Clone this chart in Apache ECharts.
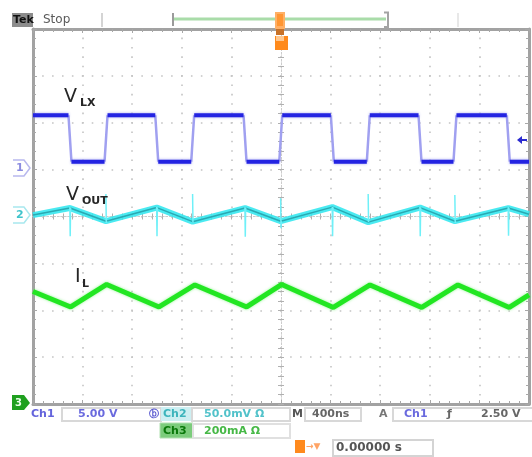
<!DOCTYPE html>
<html>
<head>
<meta charset="utf-8">
<script src="https://cdn.jsdelivr.net/npm/echarts/dist/echarts.min.js"></script>
<style>
html,body{margin:0;padding:0;background:#fff;}
#c{width:532px;height:457px;}
</style>
</head>
<body>
<div id="c"></div>
<script>
// ---- data (time in ns, values in screen divisions) ----
const timeMin = -2000, timeMax = 2000, timePerDiv = 400;
const divMin = -4, divMax = 4;

// Channel 1 (V_LX) switching node
const vlxFallTimes = [-1702, -1002, -290, 414, 1121, 1833];
const vlxRiseTimes = [-1411, -712, -2, 704, 1403];
const vlxHigh = 2.16;
const vlxLow = 1.17;

// Channel 2 (V_OUT) ripple: level at each VLX fall (peak) and rise (valley)
const voutStart = 0.03, voutEnd = 0.05;
const voutAtFall = [0.18, 0.19, 0.18, 0.2, 0.19, 0.18];
const voutAtRise = [-0.1, -0.11, -0.1, -0.12, -0.1];
// switching spikes
const voutSpikeFallTop = [0.2, 0.21, 0.2, 0.2, 0.21, 0.2];
const voutSpikeFallBottom = [-0.42, -0.42, -0.43, -0.42, -0.42, -0.41];
const voutSpikeRiseTop = [0.48, 0.48, 0.39, 0.48, 0.46];
const voutSpikeRiseBottom = [-0.14, -0.13, -0.25, -0.12, -0.14];

// Channel 3 (I_L) inductor current
const ilTimes = [-2000, -1696, -1406, -984, -694, -277, 6, 422, 718, 1135, 1427, 1841, 2000];
const ilValues = [-1.6, -1.93, -1.45, -1.93, -1.46, -1.93, -1.45, -1.94, -1.46, -1.94, -1.46, -1.94, -1.67];

// ---- build series data from the arrays ----
const events = [];
vlxFallTimes.forEach((t, i) => events.push({t, type: 'fall', i}));
vlxRiseTimes.forEach((t, i) => events.push({t, type: 'rise', i}));
events.sort((a, b) => a.t - b.t);

const edgeHalf = 12;
const vlxFlats = [], vlxEdges = [];
let t0 = timeMin, level = vlxHigh;
events.forEach(e => {
  const next = e.type === 'fall' ? vlxLow : vlxHigh;
  vlxFlats.push([t0, level], [e.t - edgeHalf, level], [e.t, '-']);
  vlxEdges.push([e.t - edgeHalf, level], [e.t + edgeHalf, next], [e.t + edgeHalf + 1, '-']);
  t0 = e.t + edgeHalf; level = next;
});
vlxFlats.push([t0, level], [timeMax, level]);

const voutRipple = [[timeMin, voutStart]];
const voutSpikes = [];
events.forEach(e => {
  if (e.type === 'fall') {
    voutRipple.push([e.t, voutAtFall[e.i]]);
    voutSpikes.push([e.t - 1, voutSpikeFallTop[e.i]], [e.t + 2, voutSpikeFallBottom[e.i]], [e.t + 5, voutAtFall[e.i]], [e.t + 6, '-']);
  } else {
    voutRipple.push([e.t, voutAtRise[e.i]]);
    voutSpikes.push([e.t - 1, voutSpikeRiseTop[e.i]], [e.t + 2, voutSpikeRiseBottom[e.i]], [e.t + 5, voutAtRise[e.i]], [e.t + 6, '-']);
  }
});
voutRipple.push([timeMax, voutEnd]);

const ilData = ilTimes.map((t, i) => [t, ilValues[i]]);

// ---- chart ----
const chart = echarts.init(document.getElementById('c'), null, {renderer: 'canvas'});
const border = '#a2a2a2';
const tickColor = '#a8a8a8';
const gridRect = {left: 33, right: 3, top: 29, bottom: 53, containLabel: false};

function edgeXAxis(pos, showSplit) {
  return {
    gridIndex: 0, type: 'value', min: timeMin, max: timeMax, interval: timePerDiv, position: pos,
    axisLine: {show: true, onZero: false, lineStyle: {color: border, width: 3}},
    axisTick: {show: true, inside: true, length: 4, lineStyle: {color: tickColor, width: 1}},
    minorTick: {show: true, splitNumber: 5, length: 3, lineStyle: {color: tickColor, width: 1}},
    axisLabel: {show: false},
    splitLine: {show: showSplit, lineStyle: {color: '#c4c4c4', width: 1.6, type: [1.6, 7.78], dashOffset: 0.8}}
  };
}
function edgeYAxis(pos, showSplit) {
  return {
    gridIndex: 0, type: 'value', min: divMin, max: divMax, interval: 1, position: pos,
    axisLine: {show: true, onZero: false, lineStyle: {color: border, width: 3}},
    axisTick: {show: true, inside: true, length: 4, lineStyle: {color: tickColor, width: 1}},
    minorTick: {show: true, splitNumber: 5, length: 3, lineStyle: {color: tickColor, width: 1}},
    axisLabel: {show: false},
    splitLine: {show: showSplit, lineStyle: {color: '#c4c4c4', width: 1.6, type: [1.6, 8.32], dashOffset: 0.8}}
  };
}
function centerXAxis(g, inside) {
  return {
    gridIndex: g, type: 'value', min: timeMin, max: timeMax, interval: timePerDiv, position: 'bottom',
    axisLine: {show: true, onZero: true, lineStyle: {color: '#cccccc', width: 1, type: [1.5, 2]}},
    axisTick: {show: true, inside: inside, length: 3, lineStyle: {color: '#b0b0b0'}},
    minorTick: {show: true, splitNumber: 5, length: 3, lineStyle: {color: '#b0b0b0'}},
    axisLabel: {show: false}, splitLine: {show: false}
  };
}
function centerYAxis(g, inside) {
  return {
    gridIndex: g, type: 'value', min: divMin, max: divMax, interval: 1, position: 'left',
    axisLine: {show: true, onZero: true, lineStyle: {color: '#cccccc', width: 1, type: [1.5, 2]}},
    axisTick: {show: true, inside: inside, length: 3, lineStyle: {color: '#b0b0b0'}},
    minorTick: {show: true, splitNumber: 5, length: 3, lineStyle: {color: '#b0b0b0'}},
    axisLabel: {show: false}, splitLine: {show: false}
  };
}

const txt = (x, y, s, color, size, weight, extra) => Object.assign({
  type: 'text', x, y, silent: true, z: 100,
  style: {text: s, fill: color, font: (weight || 'normal') + ' ' + size + 'px "DejaVu Sans", sans-serif', textVerticalAlign: 'middle'}
}, extra || {});
const rect = (x, y, w, h, fill, stroke, lw) => ({
  type: 'rect', shape: {x, y, width: w, height: h}, silent: true, z: 90,
  style: {fill: fill || 'none', stroke: stroke || 'none', lineWidth: lw || 1}
});
const line = (x1, y1, x2, y2, color, w) => ({
  type: 'line', shape: {x1, y1, x2, y2}, silent: true, z: 90, style: {stroke: color, lineWidth: w}
});

const graphics = [
  // top status bar
  rect(12, 13, 21, 14, '#8c8c8c'),
  txt(13, 20.5, 'Tek', '#111', 11, 'bold'),
  txt(43, 20, 'Stop', '#5a5a5a', 12, 'normal'),
  line(102, 13, 102, 27, '#d4d4d4', 2),
  line(458, 13, 458, 27, '#e8e8e8', 2),
  line(174, 19, 386, 19, '#a9dca9', 3),
  line(173, 13, 173, 26, '#7a7a7a', 1.5),
  {type: 'polyline', shape: {points: [[384, 12.5], [388, 12.5], [388, 27], [384, 27]]}, silent: true, z: 90, style: {stroke: '#a4a4a4', lineWidth: 2, fill: 'none'}},
  rect(275, 12, 10, 17, '#ffb066'),
  rect(277, 14, 6, 12, '#ff9633'),
  rect(276, 29, 8, 6, '#c87228'),
  rect(275, 36, 13, 14, '#ff8a1c'),
  rect(276, 36, 8, 5, '#ffc890'),
  // ground markers
  {type: 'polyline', shape: {points: [[13, 160], [24, 160], [30, 168], [24, 176], [13, 176]]}, silent: true, z: 90, style: {stroke: '#b8b8ee', lineWidth: 1.5, fill: 'none'}},
  txt(16, 168.5, '1', '#8c8ce0', 11, 'bold'),
  {type: 'polyline', shape: {points: [[13, 207], [24, 207], [30, 215], [24, 223], [13, 223]]}, silent: true, z: 90, style: {stroke: '#a8e8ee', lineWidth: 1.5, fill: 'none'}},
  txt(16, 215.5, '2', '#40c4cc', 11, 'bold'),
  {type: 'polygon', shape: {points: [[12, 395], [24, 395], [30, 403], [24, 410], [12, 410]]}, silent: true, z: 90, style: {fill: '#1fa01f'}},
  txt(15, 403, '3', '#e8ffe8', 10, 'bold'),
  // trigger level arrow
  {type: 'polygon', shape: {points: [[517, 140], [522, 136], [522, 144]]}, silent: true, z: 90, style: {fill: '#2a2ad0'}},
  line(521, 140, 527, 140, '#2a2ad0', 2),
  // trace labels
  txt(64, 97, 'V', '#262626', 19, 'normal'),
  txt(80, 103, 'LX', '#262626', 11, 'bold'),
  txt(66, 195, 'V', '#262626', 19, 'normal'),
  txt(82, 201, 'OUT', '#262626', 11, 'bold'),
  txt(75, 277, 'I', '#262626', 19, 'normal'),
  txt(82, 284, 'L', '#262626', 11, 'bold'),
  // bottom readouts row 1
  txt(31, 414, 'Ch1', '#6464dc', 11, 'bold'),
  rect(62, 408, 99, 13, null, '#d8d8d8', 2),
  txt(78, 414.5, '5.00 V', '#6a6ade', 11, 'bold'),
  txt(149, 414.5, 'ⓑ', '#5a5ad0', 10, 'bold'),
  rect(161, 407, 31, 14, '#cdeff2'),
  txt(163, 414.5, 'Ch2', '#3cb4bc', 11, 'bold'),
  rect(192, 408, 98, 13, null, '#d8d8d8', 2),
  txt(204, 414.5, '50.0mV Ω', '#52c2ca', 11, 'bold'),
  txt(292, 414.5, 'M', '#555', 11, 'bold'),
  rect(305, 408, 56, 13, null, '#d8d8d8', 2),
  txt(312, 414.5, '400ns', '#666', 11, 'bold'),
  txt(379, 414.5, 'A', '#777', 11, 'bold'),
  rect(393, 408, 140, 13, null, '#d8d8d8', 2),
  txt(404, 414.5, 'Ch1', '#6a6ade', 11, 'bold'),
  txt(447, 414.5, 'ƒ', '#666', 11, 'bold'),
  txt(481, 414.5, '2.50 V', '#666', 11, 'bold'),
  // row 2
  rect(160, 423, 33, 15, '#7ccc7c', '#b0e0b0', 1),
  txt(163, 431, 'Ch3', '#0a780a', 11, 'bold'),
  rect(193, 424, 97, 14, null, '#e0e0e0', 2),
  txt(204, 431, '200mA Ω', '#46b846', 11, 'bold'),
  // row 3
  rect(295, 440, 10, 13, '#ff8a1e'),
  txt(306, 447, '→▼', '#ffa466', 9, 'bold'),
  rect(333, 440, 100, 16, null, '#d4d4d4', 2),
  txt(336, 448, '0.00000 s', '#555', 12, 'bold')
];

chart.setOption({
  animation: false,
  backgroundColor: '#ffffff',
  grid: [Object.assign({}, gridRect), Object.assign({}, gridRect), Object.assign({}, gridRect)],
  xAxis: [edgeXAxis('bottom', true), edgeXAxis('top', false), centerXAxis(1, true), centerXAxis(2, false)],
  yAxis: [edgeYAxis('left', true), edgeYAxis('right', false), centerYAxis(1, true), centerYAxis(2, false)],
  series: [
    {name: 'IL', type: 'line', data: ilData, showSymbol: false, z: 5,
     lineStyle: {color: '#22e622', width: 5, shadowColor: 'rgba(120,240,120,0.8)', shadowBlur: 3}},
    {name: 'VOUT', type: 'line', data: voutRipple, showSymbol: false, z: 5,
     lineStyle: {color: '#36e8f0', width: 6, opacity: 0.9}},
    {name: 'VOUT core', type: 'line', data: voutRipple, showSymbol: false, z: 6,
     lineStyle: {color: '#2aa9b2', width: 1.5}},
    {name: 'VOUT spikes', type: 'line', data: voutSpikes, showSymbol: false, z: 6, connectNulls: false,
     lineStyle: {color: '#6ff0f8', width: 1.5}},
    {name: 'VLX edges', type: 'line', data: vlxEdges, showSymbol: false, z: 5, connectNulls: false,
     lineStyle: {color: '#a0a0f0', width: 2.5}},
    {name: 'VLX', type: 'line', data: vlxFlats, showSymbol: false, z: 6, connectNulls: false,
     lineStyle: {color: '#2323e2', width: 4, shadowColor: 'rgba(150,150,240,0.9)', shadowBlur: 3}}
  ],
  graphic: graphics
});
</script>
</body>
</html>
